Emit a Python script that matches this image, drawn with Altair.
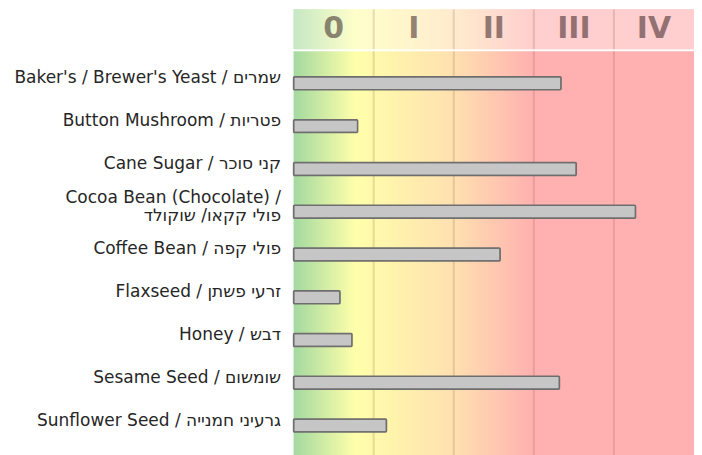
import altair as alt
import pandas as pd

# ---- data ----
foods = [
    "Baker's / Brewer's Yeast / שמרים",
    "Button Mushroom / פטריות",
    "Cane Sugar / קני סוכר",
    "Cocoa Bean (Chocolate) /\nפולי קקאו/ שוקולד",
    "Coffee Bean / פולי קפה",
    "Flaxseed / זרעי פשתן",
    "Honey / דבש",
    "Sesame Seed / שומשום",
    "Sunflower Seed / גרעיני חמנייה",
]
values = [3.34, 0.80, 3.53, 4.27, 2.58, 0.58, 0.73, 3.32, 1.16]
level_names = ["0", "I", "II", "III", "IV"]
level_start = [0, 1, 2, 3, 4]
level_end = [1, 2, 3, 4, 5]

bars_df = pd.DataFrame({"food": foods, "value": values})
levels_df = pd.DataFrame({"name": level_names, "start": level_start, "end": level_end,
                          "mid": [s + 0.5 for s in level_start]})
seps_df = pd.DataFrame({"x": level_start[1:]})
full_df = pd.DataFrame({"a": [level_start[0]], "b": [level_end[-1]]})

W = 401
xscale = alt.Scale(domain=[0, 5], nice=False, zero=False)

gradient = alt.Gradient(
    gradient="linear",
    stops=[
        alt.GradientStop(color="#a3d9a0", offset=0),
        alt.GradientStop(color="#ffffaa", offset=0.155),
        alt.GradientStop(color="#ffe0b0", offset=0.4),
        alt.GradientStop(color="#ffb0b0", offset=0.6),
        alt.GradientStop(color="#ffb0b0", offset=1),
    ],
    x1=0, x2=1, y1=0, y2=0,
)

# ---- header ----
h_bg = alt.Chart(full_df).mark_rect(color=gradient).encode(
    x=alt.X("a:Q", scale=xscale, axis=None), x2="b:Q")
h_white = alt.Chart(full_df).mark_rect(color="white", opacity=0.38).encode(
    x=alt.X("a:Q", scale=xscale, axis=None), x2="b:Q")
h_seps = alt.Chart(seps_df).mark_rule(color="#8a5a40", opacity=0.2, strokeWidth=2).encode(
    x=alt.X("x:Q", scale=xscale, axis=None))
h_text = alt.Chart(levels_df).mark_text(
    font="DejaVu Sans", fontSize=30, fontWeight="bold", color="#2a1418", opacity=0.5,
    baseline="middle", align="center").encode(
    x=alt.X("mid:Q", scale=xscale, axis=None), text="name:N")
header = alt.layer(h_bg, h_white, h_seps, h_text).properties(width=W, height=40)

# ---- body ----
yenc = alt.Y(
    "food:N", sort=foods, title=None,
    scale=alt.Scale(paddingInner=0, paddingOuter=0.25),
    axis=alt.Axis(
        labelFont="DejaVu Sans", labelFontSize=17, labelColor="#262626",
        labelLimit=0, ticks=False, domain=False, labelPadding=13,
        labelOffset={"condition": {"test": "indexof(datum.value, '\\n') >= 0", "value": -14},
                     "value": -5},
        labelLineHeight=18,
        labelExpr="split(datum.label, '\\n')",
        minExtent=286, maxExtent=286,
    ),
)
b_bg = alt.Chart(full_df).mark_rect(color=gradient).encode(
    x=alt.X("a:Q", scale=xscale, axis=None), x2="b:Q")
b_seps = alt.Chart(seps_df).mark_rule(color="#8a5a40", opacity=0.2, strokeWidth=2).encode(
    x=alt.X("x:Q", scale=xscale, axis=None))
b_bars = alt.Chart(bars_df).mark_bar(
    size=13, fill="#c6c6c6", stroke="#6e6e6e", strokeWidth=1.5, cornerRadius=1).encode(
    x=alt.X("value:Q", scale=xscale, axis=None), y=yenc)
body = alt.layer(b_bg, b_seps, b_bars).properties(width=W, height=407)

chart = alt.vconcat(header, body, spacing=0).properties(
    padding={"left": 0, "top": 0, "right": 0, "bottom": 0},
    background="white",
).configure_view(stroke=None)

chart.save("out.html", embed_options={"renderer": "svg", "actions": False})
